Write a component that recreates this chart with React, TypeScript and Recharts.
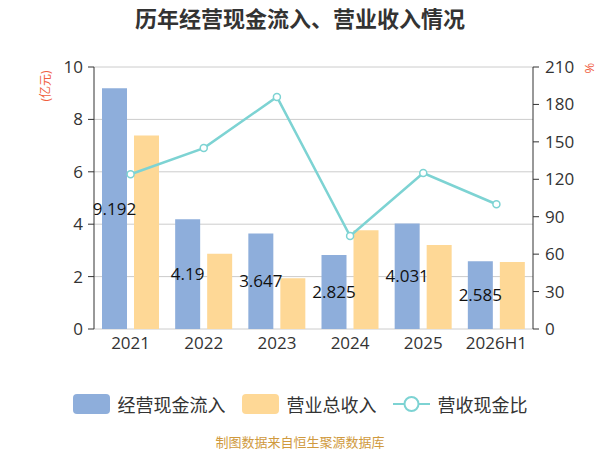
import React from 'react';
import {
  ComposedChart, Bar, Line, XAxis, YAxis, CartesianGrid, Legend, LabelList,
} from 'recharts';

const years = ['2021', '2022', '2023', '2024', '2025', '2026H1'];
const cashInflow = [9.192, 4.19, 3.647, 2.825, 4.031, 2.585];
const revenue = [7.39, 2.87, 1.94, 3.77, 3.21, 2.56];
const cashRatio = [124, 145, 186, 74.5, 125, 100];
const leftTicks = [0, 2, 4, 6, 8, 10];
const rightTicks = [0, 30, 60, 90, 120, 150, 180, 210];
const boundaryTicks = [0, 1, 2, 3, 4, 5, 6];

const data = years.map((year, i) => ({
  year,
  cash: cashInflow[i],
  revenue: revenue[i],
  ratio: cashRatio[i],
  pos: i,
}));

const FONT = "'Open Sans', 'Noto Sans CJK SC', sans-serif";
const BLUE = '#8eaedb';
const ORANGE = '#fed896';
const TEAL = '#7dd3d3';
const RED = '#f0603f';

function LegendContent({ payload }: any) {
  if (!payload?.length) return null;
  return (
    <div style={{ display: 'flex', justifyContent: 'center', alignItems: 'center', fontSize: 18, color: '#333' }}>
      {payload.map((p: any, i: number) => (
        <div key={p.value} style={{ display: 'flex', alignItems: 'center', marginLeft: i === 0 ? 0 : 16 }}>
          {p.type === 'line' ? (
            <svg width={37} height={20} style={{ display: 'block' }}>
              <line x1={0} y1={10} x2={37} y2={10} stroke={TEAL} strokeWidth={2} />
              <circle cx={18.5} cy={10} r={7} fill="#fff" stroke={TEAL} strokeWidth={2} />
            </svg>
          ) : (
            <div style={{ width: 37, height: 20, borderRadius: 4, background: p.color }} />
          )}
          <span style={{ marginLeft: 8 }}>{p.value}</span>
        </div>
      ))}
    </div>
  );
}

export default function App() {
  return (
    <div style={{ position: 'absolute', left: 0, top: 0, width: 600, height: 450, fontFamily: FONT, background: '#fff', overflow: 'hidden' }}>
      <div style={{ position: 'absolute', top: 4, left: 0, width: 600, textAlign: 'center', fontSize: 22, fontWeight: 'bold', color: '#333', lineHeight: '28px' }}>
        历年经营现金流入、营业收入情况
      </div>
      <div style={{ position: 'absolute', left: 45, top: 86, transform: 'translate(-50%, -50%) rotate(-90deg)', fontSize: 12, color: RED, whiteSpace: 'nowrap' }}>
        (亿元)
      </div>
      <div style={{ position: 'absolute', left: 589, top: 68, transform: 'translate(-50%, -50%) rotate(-90deg)', fontSize: 13, color: RED }}>
        %
      </div>
      <ComposedChart
        width={600}
        height={450}
        data={data}
        margin={{ top: 67, right: 0, bottom: 91, left: 0 }}
        barGap={7}
        barSize={25}
      >
        <CartesianGrid xAxisId="cat" yAxisId="left" vertical={false} stroke="#cccccc" />
        <XAxis
          xAxisId="ticks"
          type="number"
          dataKey="pos"
          domain={[0, 6]}
          ticks={boundaryTicks}
          tick={false}
          height={0}
          axisLine={{ stroke: '#333' }}
          tickLine={{ stroke: '#333' }}
          tickSize={6}
        />
        <XAxis
          xAxisId="cat"
          dataKey="year"
          axisLine={false}
          tickLine={false}
          height={30}
          tickMargin={2}
          tick={{ fontSize: 17, fill: '#333' }}
        />
        <YAxis
          yAxisId="left"
          width={94}
          domain={[0, 10]}
          ticks={leftTicks}
          axisLine={{ stroke: '#333' }}
          tickLine={{ stroke: '#333' }}
          tickSize={6}
          tickMargin={5}
          tick={{ fontSize: 17, fill: '#333' }}
        />
        <YAxis
          yAxisId="right"
          orientation="right"
          width={67}
          domain={[0, 210]}
          ticks={rightTicks}
          axisLine={{ stroke: '#333' }}
          tickLine={{ stroke: '#333' }}
          tickSize={6}
          tickMargin={6}
          tick={{ fontSize: 17, fill: '#333' }}
        />
        <Legend
          verticalAlign="middle"
          align="center"
          layout="horizontal"
          wrapperStyle={{ top: 391, left: 0, width: 600 }}
          content={<LegendContent />}
        />
        <Bar xAxisId="cat" yAxisId="left" dataKey="cash" name="经营现金流入" fill={BLUE} isAnimationActive={false}>
          <LabelList dataKey="cash" position="center" fill="#111" fontSize={17} />
        </Bar>
        <Bar xAxisId="cat" yAxisId="left" dataKey="revenue" name="营业总收入" fill={ORANGE} isAnimationActive={false} />
        <Line
          xAxisId="cat"
          yAxisId="right"
          dataKey="ratio"
          name="营收现金比"
          stroke={TEAL}
          strokeWidth={2.5}
          dot={{ r: 3.5, fill: '#fff', stroke: TEAL, strokeWidth: 1.5 }}
          isAnimationActive={false}
        />
      </ComposedChart>
      <div style={{ position: 'absolute', top: 434, left: 0, width: 600, textAlign: 'center', fontSize: 13, color: '#d09a3e', lineHeight: '16px' }}>
        制图数据来自恒生聚源数据库
      </div>
    </div>
  );
}
